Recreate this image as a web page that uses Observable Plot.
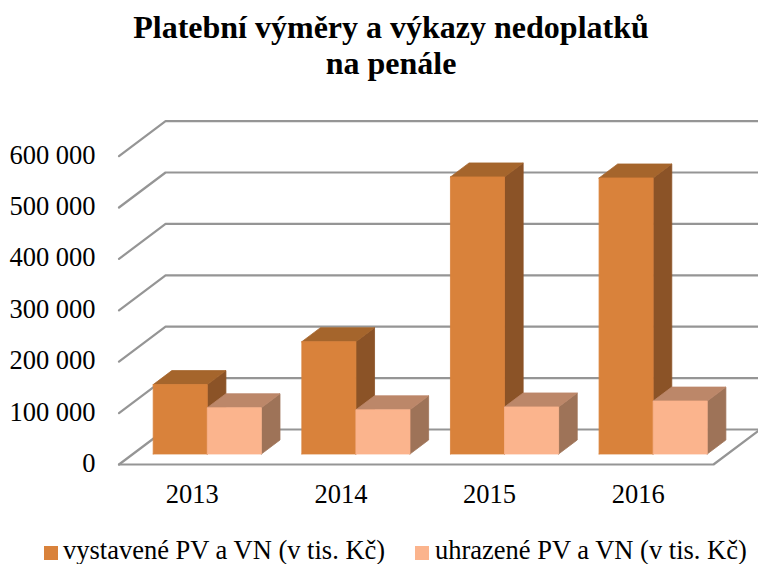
<!DOCTYPE html>
<html lang="cs">
<head>
<meta charset="utf-8">
<script src="https://cdn.jsdelivr.net/npm/d3@7"></script>
<script src="https://cdn.jsdelivr.net/npm/@observablehq/plot@0.6"></script>
<style>
  html, body { margin: 0; padding: 0; background: #fff; overflow: hidden; }
  body { width: 758px; height: 564px; position: relative; font-family: "Liberation Serif", serif; color: #000; }
  #title { position: absolute; left: 0; top: 9px; width: 782px; text-align: center; font-size: 32px; line-height: 36px; font-weight: bold; }
  #chart { position: absolute; left: 0; top: 90px; }
  #legend { position: absolute; left: 0; top: 537px; width: 758px; height: 26px; font-size: 26.5px; line-height: 26px; white-space: nowrap; }
  #legend span { position: absolute; top: 0; }
  #legend i { position: absolute; top: 9px; width: 14px; height: 14px; display: block; }
  svg text { font-family: "Liberation Serif", serif; }
</style>
</head>
<body>
<div id="title">Platební výměry a výkazy nedoplatků<br>na penále</div>
<div id="chart"></div>
<div id="legend"></div>
<script>
// Data
const years = ["2013", "2014", "2015", "2016"];
const issued = [135000, 218500, 539000, 537000];
const paid = [90000, 86000, 91500, 103000];
const yTicks = [0, 100000, 200000, 300000, 400000, 500000, 600000];
const seriesNames = ["vystavené PV a VN (v tis. Kč)", "uhrazené PV a VN (v tis. Kč)"];

// Oblique projection: depth z (0 = front of floor, 1 = back wall)
const depthX = 0.3133;    // category units at z = 1
const depthY = 68100;     // value units at z = 1
const barWidth = 0.3639;  // category units
const barZ = [0.3, 0.7];
const gap = (1 - 2 * barWidth) / 2;
const yMax = 600000;

const faceRoles = ["issuedFront", "issuedTop", "issuedSide", "paidFront", "paidTop", "paidSide"];
const faceColors = ["#D9823B", "#A5652C", "#8B5327", "#FBB48D", "#BC8769", "#9E7358"];

const project = (u, v, z) => ({x: u + z * depthX, y: v + z * depthY});

// Grid lines: left wall and back wall at every tick
const grid = yTicks.flatMap((v) => [
  {id: v, ...project(0, v, 0)},
  {id: v, ...project(0, v, 1)},
  {id: v, ...project(4, v, 1)}
]);
// Floor's front and right edges
const floor = [project(0, 0, 0), project(4, 0, 0), project(4, 0, 1)];

// Faces of the 3D bars
function barFaces(u, v, key, prefix) {
  const [z0, z1] = barZ;
  const u1 = u + barWidth;
  const faces = {
    Side: [[u1, 0, z0], [u1, 0, z1], [u1, v, z1], [u1, v, z0], [u1, 0, z0]],
    Top: [[u, v, z0], [u, v, z1], [u1, v, z1], [u1, v, z0], [u, v, z0]],
    Front: [[u, 0, z0], [u, v, z0], [u1, v, z0], [u1, 0, z0], [u, 0, z0]]
  };
  return Object.entries(faces).flatMap(([name, pts]) =>
    pts.map(([a, b, c]) => ({id: `${key}-${prefix}-${name}`, role: prefix + name, ...project(a, b, c)}))
  );
}
const faces = years.flatMap((year, i) => [
  ...barFaces(i + gap, issued[i], year, "issued"),
  ...barFaces(i + gap + barWidth, paid[i], year, "paid")
]);

const fmt = (d) => d3.format(",")(d).replace(/,/g, " ");

const chart = Plot.plot({
  width: 758,
  height: 440,
  marginLeft: 118.5,
  marginRight: 45,
  marginTop: 65.6,
  marginBottom: 66,
  style: {background: "transparent", overflow: "visible"},
  x: {domain: [0, 4], axis: null},
  y: {domain: [0, yMax], axis: null},
  color: {domain: faceRoles, range: faceColors},
  marks: [
    Plot.line(grid, {x: "x", y: "y", z: "id", stroke: "#959595", strokeWidth: 2.2}),
    Plot.line(floor, {x: "x", y: "y", stroke: "#959595", strokeWidth: 2.2}),
    Plot.line(faces, {x: "x", y: "y", z: "id", fill: "role", stroke: "role", strokeWidth: 0.8}),
    Plot.axisY({
      ticks: yTicks,
      tickFormat: fmt,
      tickSize: 0,
      tickPadding: 23.5,
      fontSize: 26.5,
      label: null,
      dy: -1,
      color: "#000"
    }),
    Plot.axisX({
      ticks: years.map((_, i) => i + 0.5),
      tickFormat: (d) => years[Math.floor(d)],
      tickSize: 0,
      tickPadding: 20,
      fontSize: 26.5,
      label: null,
      dx: -1,
      color: "#000"
    })
  ]
});
document.getElementById("chart").append(chart);

// Legend
const legend = document.getElementById("legend");
const legendLayout = [
  {swatch: 44, text: 63, color: faceColors[0]},
  {swatch: 415, text: 435, color: faceColors[3]}
];
seriesNames.forEach((name, i) => {
  const sw = document.createElement("i");
  sw.style.left = legendLayout[i].swatch + "px";
  sw.style.background = legendLayout[i].color;
  const t = document.createElement("span");
  t.style.left = legendLayout[i].text + "px";
  t.textContent = name;
  legend.append(sw, t);
});
</script>
</body>
</html>
